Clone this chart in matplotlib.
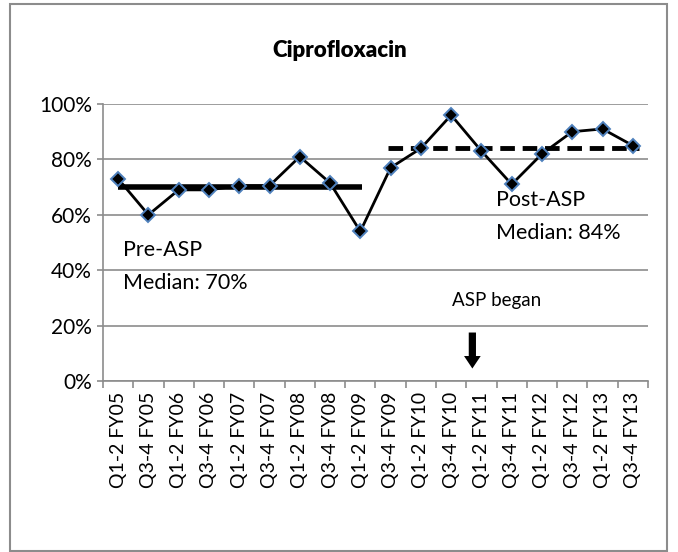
import matplotlib
matplotlib.use('Agg')
import matplotlib.pyplot as plt
from matplotlib.patches import Rectangle
from matplotlib.ticker import FixedLocator, PercentFormatter

plt.rcParams['font.family'] = ['Lato', 'DejaVu Sans']

# Data
periods = ['Q1-2 FY05', 'Q3-4 FY05', 'Q1-2 FY06', 'Q3-4 FY06', 'Q1-2 FY07',
           'Q3-4 FY07', 'Q1-2 FY08', 'Q3-4 FY08', 'Q1-2 FY09', 'Q3-4 FY09',
           'Q1-2 FY10', 'Q3-4 FY10', 'Q1-2 FY11', 'Q3-4 FY11', 'Q1-2 FY12',
           'Q3-4 FY12', 'Q1-2 FY13', 'Q3-4 FY13']
cipro = [0.73, 0.60, 0.69, 0.69, 0.705, 0.705, 0.81, 0.715, 0.54, 0.77,
         0.84, 0.96, 0.83, 0.71, 0.82, 0.90, 0.91, 0.85]
pre_median = 0.70
post_median = 0.84
pre_span = [0, 8.05]
post_span = [8.9, 17.2]

fig = plt.figure(figsize=(6.78, 5.52), dpi=100)
ax = fig.add_axes([0.1519, 0.3098, 0.8038, 0.5018])

grid_col = '#8c8c8c'
x = list(range(len(periods)))

ax.plot(x, cipro, color='black', lw=2.0, marker='D', markersize=7.5,
        markerfacecolor='black', markeredgecolor='#4f81bd', markeredgewidth=1.4,
        zorder=4)

# median lines
ax.plot(pre_span, [pre_median, pre_median], color='black', lw=4, zorder=3,
        solid_capstyle='butt')
ax.plot(post_span, [post_median, post_median], color='black', lw=3.5, zorder=3,
        linestyle=(0, (3, 1.6)))

ax.text(0.16, 0.451, 'Pre-ASP', fontsize=15.5, va='baseline', ha='left')
ax.text(0.16, 0.332, 'Median: 70%', fontsize=15.5, va='baseline', ha='left')
ax.text(12.47, 0.632, 'Post-ASP', fontsize=15.5, va='baseline', ha='left')
ax.text(12.47, 0.513, 'Median: 84%', fontsize=15.5, va='baseline', ha='left')
ax.text(12.51, 0.29, 'ASP began', fontsize=13.5, ha='center', va='center')
ax.annotate('', xy=(11.7, 0.035), xytext=(11.7, 0.185),
            arrowprops=dict(arrowstyle='simple,head_width=0.6,head_length=0.45,tail_width=0.26',
                            mutation_scale=20, color='black', lw=0))

ax.set_xlim(-0.5, len(periods) - 0.5)
ax.set_ylim(0, 1)

ax.set_yticks([0, 0.2, 0.4, 0.6, 0.8, 1.0])
ax.yaxis.set_major_formatter(PercentFormatter(1.0, decimals=0))
ax.yaxis.grid(True, color=grid_col, lw=1.2)
ax.set_axisbelow(True)

ax.set_xticks(x)
ax.set_xticklabels(periods, rotation=90, fontsize=14)
ax.xaxis.set_minor_locator(FixedLocator([i - 0.5 for i in range(len(periods) + 1)]))
ax.tick_params(axis='x', which='major', length=0, pad=8)
ax.tick_params(axis='x', which='minor', length=5, color=grid_col, width=1.2)
ax.tick_params(axis='y', length=4, color=grid_col, width=1.2, labelsize=15, pad=4)

for side in ['top', 'right']:
    ax.spines[side].set_visible(False)
for side in ['left', 'bottom']:
    ax.spines[side].set_color(grid_col)
    ax.spines[side].set_linewidth(1.2)

fig.text(0.5015, 0.909, 'Ciprofloxacin', fontsize=16, fontweight='heavy',
         ha='center', va='center')

# outer chart frame
fig.patches.append(Rectangle((10 / 678, 0.002), 657 / 678, 0.99, transform=fig.transFigure,
                             fill=False, edgecolor='#8c8c8c', lw=1.5))

fig.savefig('out.png', dpi=100)
